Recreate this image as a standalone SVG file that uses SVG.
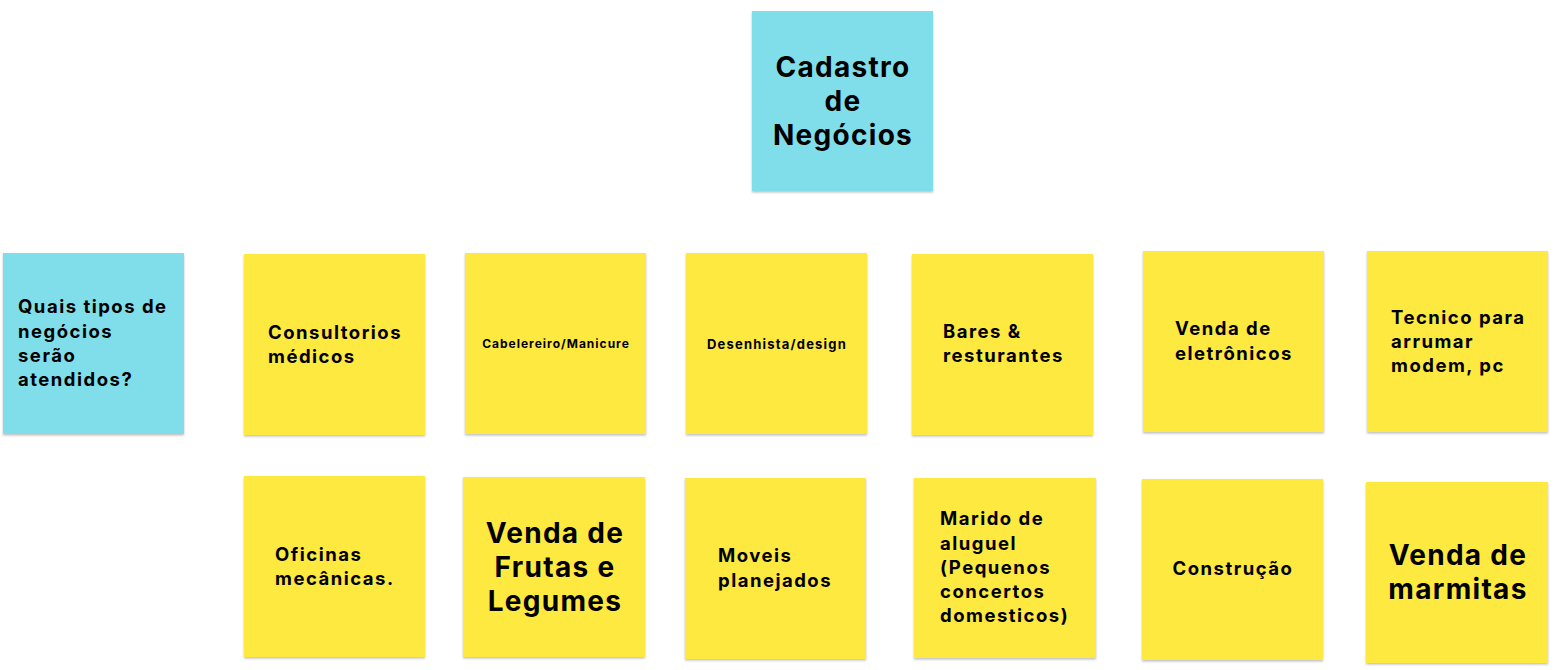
<svg xmlns="http://www.w3.org/2000/svg" width="1555" height="670" viewBox="0 0 1555 670">
<defs>
<filter id="sh" x="-5%" y="-5%" width="110%" height="112%">
<feDropShadow dx="0" dy="1.5" stdDeviation="1.2" flood-color="#000" flood-opacity="0.25"/>
</filter>
<style>
.c{fill:#80DEEA;filter:url(#sh)}
.y{fill:#FEE93F;filter:url(#sh)}
text{font-family:Inter,"Open Sans","Liberation Sans",sans-serif;font-weight:700;fill:#000}
.m{text-anchor:middle}
.f19{font-size:18.5px;letter-spacing:1.5px}
.f28{font-size:28px;letter-spacing:1.3px}
</style>
</defs>
<rect width="1555" height="670" fill="#fff"/>
<g id="connectors"></g>
<g id="n-cadastro"><rect class="c" x="752" y="11" width="181" height="180"/>
<text class="m f28" x="843"><tspan x="843" y="77">Cadastro</tspan><tspan x="843" y="111">de</tspan><tspan x="843" y="145">Negócios</tspan></text></g>
<g id="n-quais"><rect class="c" x="3" y="253" width="181" height="181"/>
<text class="f19" x="18"><tspan x="18" y="313">Quais tipos de</tspan><tspan x="18" y="338">negócios</tspan><tspan x="18" y="362">serão</tspan><tspan x="18" y="386">atendidos?</tspan></text></g>
<g id="n-consultorios"><rect class="y" x="244" y="254" width="181" height="181"/>
<text class="f19" x="268"><tspan x="268" y="339">Consultorios</tspan><tspan x="268" y="363">médicos</tspan></text></g>
<g id="n-cabelereiro"><rect class="y" x="465" y="253" width="181" height="181"/>
<text class="m" x="556" y="347.5" font-size="12" letter-spacing="1">Cabelereiro/Manicure</text></g>
<g id="n-desenhista"><rect class="y" x="686" y="253" width="181" height="181"/>
<text class="m" x="777" y="348.5" font-size="13" letter-spacing="1.2">Desenhista/design</text></g>
<g id="n-bares"><rect class="y" x="912" y="254" width="181" height="181"/>
<text class="f19" x="943"><tspan x="943" y="338">Bares &amp;</tspan><tspan x="943" y="362">resturantes</tspan></text></g>
<g id="n-eletronicos"><rect class="y" x="1143" y="251" width="181" height="181"/>
<text class="f19" x="1175"><tspan x="1175" y="335">Venda de</tspan><tspan x="1175" y="360">eletrônicos</tspan></text></g>
<g id="n-tecnico"><rect class="y" x="1367" y="251" width="181" height="181"/>
<text class="f19" x="1391"><tspan x="1391" y="324">Tecnico para</tspan><tspan x="1391" y="348">arrumar</tspan><tspan x="1391" y="372">modem, pc</tspan></text></g>
<g id="n-oficinas"><rect class="y" x="244" y="476" width="181" height="181"/>
<text class="f19" x="275"><tspan x="275" y="561">Oficinas</tspan><tspan x="275" y="585">mecânicas.</tspan></text></g>
<g id="n-frutas"><rect class="y" x="463" y="477" width="182" height="180"/>
<text class="m f28" x="555"><tspan x="555" y="543">Venda de</tspan><tspan x="555" y="577">Frutas e</tspan><tspan x="555" y="611">Legumes</tspan></text></g>
<g id="n-moveis"><rect class="y" x="685" y="478" width="181" height="181"/>
<text class="f19" x="718"><tspan x="718" y="562">Moveis</tspan><tspan x="718" y="587">planejados</tspan></text></g>
<g id="n-marido"><rect class="y" x="914" y="478" width="182" height="180"/>
<text class="f19" x="940"><tspan x="940" y="525">Marido de</tspan><tspan x="940" y="550">aluguel</tspan><tspan x="940" y="574">(Pequenos</tspan><tspan x="940" y="598">concertos</tspan><tspan x="940" y="622">domesticos)</tspan></text></g>
<g id="n-construcao"><rect class="y" x="1142" y="479" width="181" height="181"/>
<text class="m f19" x="1233" y="575">Construção</text></g>
<g id="n-marmitas"><rect class="y" x="1366" y="482" width="182" height="181"/>
<text class="m f28" x="1458"><tspan x="1458" y="565">Venda de</tspan><tspan x="1458" y="599">marmitas</tspan></text></g>
</svg>
